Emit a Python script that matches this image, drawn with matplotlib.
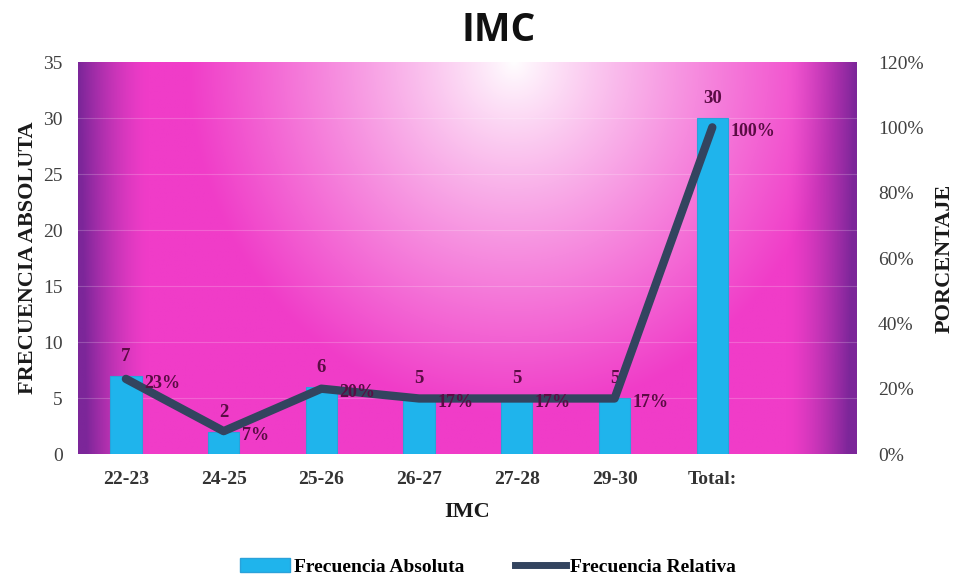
import matplotlib
matplotlib.use("agg")
import matplotlib.pyplot as plt
import numpy as np
from matplotlib.colors import to_rgb
from matplotlib.patches import Patch
from matplotlib.lines import Line2D

categorias = ["22-23", "24-25", "25-26", "26-27", "27-28", "29-30", "Total:"]
frecuencia_absoluta = [7, 2, 6, 5, 5, 5, 30]
frecuencia_relativa = [23, 7, 20, 17, 17, 17, 100]   # porcentaje
ticks_izq = [0, 5, 10, 15, 20, 25, 30, 35]
ticks_der = [0, 20, 40, 60, 80, 100, 120]

serif = "Liberation Serif"
lbl_color = "#5a0c44"
barra = "#1fb4ec"
linea = "#33445f"

fig = plt.figure(figsize=(9.56, 5.8), dpi=100)
ax = fig.add_axes([0.0816, 0.2172, 0.8148, 0.6759])
ax2 = ax.twinx()

# fondo: degradado radial blanco -> fucsia, oscurecido a morado en los bordes
gx, gy = np.meshgrid(np.linspace(0, 1, 500), np.linspace(0, 1, 300))
d = np.sqrt(((gx - 0.56) / 0.42) ** 2 + ((gy - 1.0) / 0.9) ** 2)
m = np.clip(d, 0, 1)[..., None] ** 0.9
blanco = np.array(to_rgb("#ffffff"))
fucsia = np.array(to_rgb("#f03cc8"))
morado = np.array(to_rgb("#7c2699"))
img = blanco * (1 - m) + fucsia * m
e = np.clip((np.abs(gx - 0.5) - 0.41) / 0.09, 0, 1) ** 1.5
e = np.clip(e + 0.2 * (1 - gy) * e, 0, 1)[..., None]
img = img * (1 - e) + morado * e
ax.imshow(img, origin="lower", extent=[0, 1, 0, 1], transform=ax.transAxes,
          aspect="auto", zorder=0)

x = np.arange(len(categorias))
ax.bar(x, frecuencia_absoluta, width=0.32, color=barra, edgecolor="#2aa2da",
       linewidth=0.8, zorder=2)
for xi, v in zip(x, frecuencia_absoluta):
    ax.annotate(str(v), (xi, v), xytext=(0, 8), textcoords="offset points",
                ha="center", va="bottom", fontsize=13.5, fontweight="bold",
                family=serif, color=lbl_color, zorder=5)

ax.set_xlim(-0.49, 7.48)
ax.set_ylim(0, 35)
ax.set_yticks(ticks_izq)
ax.set_xticks(x)
ax.set_xticklabels(categorias, fontsize=14, fontweight="bold", family=serif, color="#333333")
ax.tick_params(axis="y", labelsize=14, labelcolor="#404040", length=0, pad=11)
ax.tick_params(axis="x", length=0, pad=12)
for t in ax.get_yticklabels():
    t.set_family(serif)
for yv in ticks_izq[1:-1]:
    ax.axhline(yv, color="#ffffff", alpha=0.2, lw=0.8, zorder=1)
for s in ax.spines.values():
    s.set_visible(False)

ax2.plot(x, frecuencia_relativa, color=linea, lw=6, solid_joinstyle="round",
         solid_capstyle="round", zorder=4)
for xi, v in zip(x, frecuencia_relativa):
    ax2.annotate(f"{v}%", (xi, v), xytext=(13, -3), textcoords="offset points",
                 ha="left", va="center", fontsize=13, fontweight="bold",
                 family=serif, color=lbl_color, zorder=5)
ax2.set_ylim(0, 120)
ax2.set_yticks(ticks_der)
ax2.set_yticklabels([f"{t}%" for t in ticks_der], family=serif)
ax2.tick_params(axis="y", labelsize=14, labelcolor="#404040", length=0, pad=15)
for s in ax2.spines.values():
    s.set_visible(False)

ax.set_ylabel("FRECUENCIA ABSOLUTA", fontsize=16, fontweight="bold", family=serif,
              color="#1a1a1a", labelpad=4)
ax2.set_ylabel("PORCENTAJE", fontsize=16, fontweight="bold", family=serif,
               color="#1a1a1a", labelpad=8)
ax.set_xlabel("IMC", fontsize=16, fontweight="bold", family=serif, color="#1a1a1a",
              labelpad=10)

fig.text(0.522, 0.948, "IMC", ha="center", va="center", fontsize=28,
         fontweight="bold", family="Open Sans", color="#111111")

handles = [Patch(facecolor=barra, edgecolor="#2aa2da"),
           Line2D([0], [0], color=linea, lw=5)]
fig.legend(handles, ["Frecuencia Absoluta", "Frecuencia Relativa"], loc="center",
           bbox_to_anchor=(0.51, 0.022), ncol=2, frameon=False, handlelength=2.6,
           handletextpad=0.2, columnspacing=2.6,
           prop={"family": serif, "weight": "bold", "size": 14})

fig.savefig("out.png", dpi=100)
